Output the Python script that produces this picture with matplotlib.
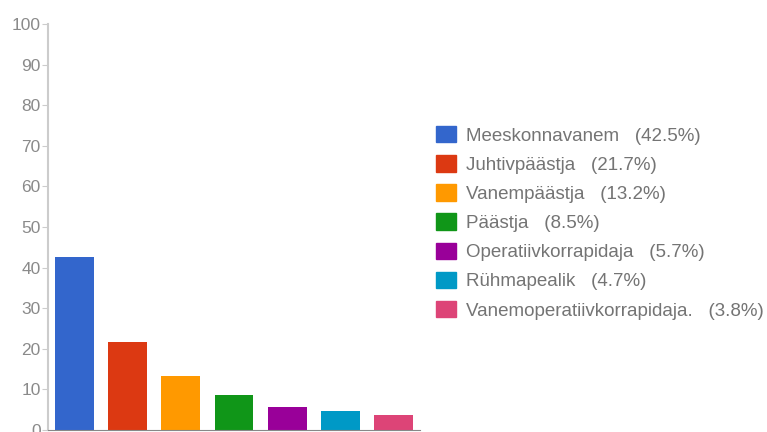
import matplotlib.pyplot as plt
from matplotlib.patches import Patch

plt.rcParams["font.family"] = ["Liberation Sans", "DejaVu Sans"]

roles = ["Meeskonnavanem", "Juhtivpäästja", "Vanempäästja", "Päästja",
         "Operatiivkorrapidaja", "Rühmapealik", "Vanemoperatiivkorrapidaja."]
shares = [42.5, 21.7, 13.2, 8.5, 5.7, 4.7, 3.8]
colors = ["#3366cc", "#dc3912", "#ff9900", "#109618", "#990099", "#0099c6", "#dd4477"]
yticks = [0, 10, 20, 30, 40, 50, 60, 70, 80, 90, 100]

fig = plt.figure(figsize=(7.67, 4.32), dpi=100)
ax = fig.add_axes([47.5 / 767, 2 / 432, 373 / 767, 406 / 432])

x = range(len(shares))
ax.bar(x, shares, width=0.73, color=colors)
ax.set_xlim(-0.5, len(shares) - 0.5)
ax.set_ylim(0, 100)
ax.set_yticks(yticks)
ax.set_xticks([])

for s in ["top", "right"]:
    ax.spines[s].set_visible(False)
ax.spines["left"].set_color("#cccccc")
ax.spines["left"].set_linewidth(1.5)
ax.spines["bottom"].set_color("#888888")
ax.tick_params(axis="y", colors="#cccccc", length=4, labelcolor="#8a8a8a",
               labelsize=12.5, pad=1)

handles = [Patch(color=c) for c in colors]
labels = [f"{r}   ({s}%)" for r, s in zip(roles, shares)]
fig.legend(handles, labels, loc="upper left",
           bbox_to_anchor=(436 / 767, 1 - 126 / 432), frameon=False,
           prop={"size": 13.5}, labelcolor="#747474", handlelength=1.07,
           handleheight=0.97, handletextpad=0.52, labelspacing=0.56,
           borderpad=0, borderaxespad=0)

fig.savefig("out.png", dpi=100)
